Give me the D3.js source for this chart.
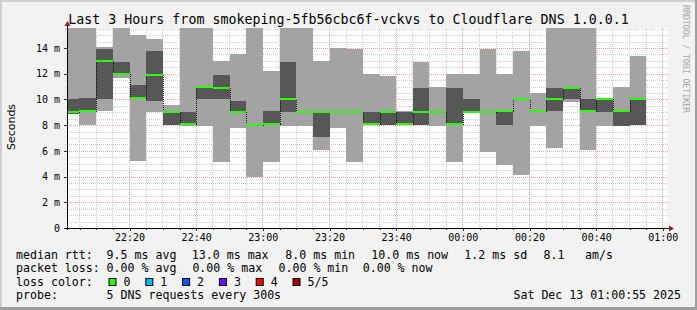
<!DOCTYPE html>
<html>
<head>
<meta charset="utf-8">
<script src="https://cdn.jsdelivr.net/npm/d3@7"></script>
<style>
  body { margin: 0; background: #f2f2f2; }
  svg { display: block; }
  text { font-family: "DejaVu Sans Mono", monospace; fill: #000; }
</style>
</head>
<body>
<div id="graphique"></div>
<script>
// Dimensions de l'image
const largeur = 697;
const hauteur = 310;
const zone = {gauche: 67, droite: 667, haut: 28, bas: 228};

// Fenêtre de 3 heures affichée
const debut = new Date(2025, 11, 12, 22, 1, 15);
const fin = new Date(2025, 11, 13, 1, 1, 15);
const yMax = 15.556; // haut du graphique en ms

// Fin de chaque intervalle de 5 minutes
const heuresFin = ["22:05", "22:10", "22:15", "22:20", "22:25", "22:30", "22:35", "22:40", "22:45",
    "22:50", "22:55", "23:00", "23:05", "23:10", "23:15", "23:20", "23:25", "23:30", "23:35", "23:40",
    "23:45", "23:50", "23:55", "00:00", "00:05", "00:10", "00:15", "00:20", "00:25", "00:30", "00:35",
    "00:40", "00:45", "00:50", "00:55"];

// Les 5 requêtes DNS triées (ms) : la plus rapide, 2e, médiane, 4e, la plus lente
const ping1 = [8.9, 8.0, 9.1, 11.7, 5.2, 9.0, 8.0, 7.9, 7.9, 5.1, 7.8, 4.0, 5.1, 7.9, 7.9, 6.1, 7.8, 5.1,
    8.0, 8.0, 8.0, 8.0, 7.9, 5.1, 9.0, 5.9, 4.9, 4.1, 7.9, 6.2, 9.8, 6.1, 7.9, 7.9, 8.0];
const ping2 = [8.9, 9.1, 10.0, 12.0, 10.1, 9.9, 8.0, 8.0, 10.0, 10.0, 9.0, 8.0, 8.1, 9.0, 9.0, 7.1, 9.0, 9.0,
    8.1, 8.0, 8.1, 8.0, 9.0, 8.1, 9.0, 9.0, 8.0, 10.0, 9.1, 9.1, 10.0, 9.1, 9.0, 7.9, 8.0];
const medianes = [9.0, 9.1, 13.0, 12.0, 10.1, 11.9, 9.0, 8.1, 11.0, 10.9, 9.0, 8.0, 8.1, 10.0, 9.0, 9.0, 9.0, 9.0,
    8.1, 9.0, 8.1, 9.0, 9.0, 8.1, 9.0, 9.0, 9.1, 10.0, 9.1, 10.0, 10.9, 9.1, 10.0, 9.1, 10.0];
const ping4 = [10.0, 10.1, 13.9, 12.9, 11.1, 13.8, 9.0, 9.0, 11.0, 11.9, 9.9, 8.0, 9.1, 12.9, 9.0, 9.0, 9.0, 9.0,
    9.0, 9.0, 9.0, 10.9, 9.0, 10.9, 10.0, 9.0, 9.1, 10.0, 9.1, 10.9, 10.9, 10.0, 10.0, 9.1, 10.1];
const ping5 = [18, 18, 14.1, 18, 15.0, 14.7, 9.6, 18, 18, 13.0, 13.5, 18, 12.2, 18, 18, 13.0, 14.0, 13.9,
    12.0, 11.8, 9.1, 12.9, 11.0, 12.0, 12.0, 13.9, 12.0, 13.8, 10.5, 18, 18, 18, 10.0, 11.0, 13.4];

// Graduations
const yTicks = [0, 2, 4, 6, 8, 10, 12, 14];
const xLabels = ["22:20", "22:40", "23:00", "23:20", "23:40", "00:00", "00:20", "00:40", "01:00"];

// Légende
const titre = "Last 3 Hours from smokeping-5fb56cbc6f-vckvs to Cloudflare DNS 1.0.0.1";
const statsRtt = ["9.5 ms avg", "13.0 ms max", "8.0 ms min", "10.0 ms now", "1.2 ms sd", "8.1", "am/s"];
const statsPerte = ["0.00 % avg", "0.00 % max", "0.00 % min", "0.00 % now"];
const pertesLabels = ["0", "1", "2", "3", "4", "5/5"];
const pertesCouleurs = ["#26ff00", "#00b8ff", "#0059ff", "#7e00ff", "#ff0000", "#a10000"];
const sonde = "5 DNS requests every 300s";
const dateGraphique = "Sat Dec 13 01:00:55 2025";

// Positions horizontales des morceaux de légende
const posRtt = [106.6, 191.8, 285.3, 371.3, 464.3, 543.6, 585.1];
const posPerte = [106.6, 192.4, 278.5, 362.7];

function versDate(hm) {
    const [h, m] = hm.split(":").map(Number);
    return h >= 12 ? new Date(2025, 11, 12, h, m) : new Date(2025, 11, 13, h, m);
}

const donnees = heuresFin.map((hm, i) => ({
    fin: versDate(hm),
    p1: ping1[i], p2: ping2[i], med: medianes[i], p4: ping4[i], p5: ping5[i]
}));

// Échelles
const x = d3.scaleTime().domain([debut, fin]).range([zone.gauche, zone.droite]);
const y = d3.scaleLinear().domain([0, yMax]).range([zone.bas, zone.haut]);

const svg = d3.select('#graphique')
    .append('svg')
    .attr('width', largeur)
    .attr('height', hauteur);

// Fond et bordures
svg.append('rect').attr('width', largeur).attr('height', hauteur).attr('fill', '#f2f2f2');
svg.append('rect').attr('x', 0).attr('y', 0).attr('width', largeur).attr('height', 2).attr('fill', '#cfcfcf');
svg.append('rect').attr('x', 0).attr('y', 0).attr('width', 2).attr('height', hauteur).attr('fill', '#cfcfcf');
svg.append('rect').attr('x', 0).attr('y', hauteur - 3).attr('width', largeur).attr('height', 3).attr('fill', '#9e9e9e');
svg.append('rect').attr('x', largeur - 2).attr('y', 0).attr('width', 2).attr('height', hauteur).attr('fill', '#9e9e9e');

// Zone du graphique
svg.append('rect')
    .attr('x', zone.gauche).attr('y', zone.haut)
    .attr('width', zone.droite - zone.gauche + 1).attr('height', zone.bas - zone.haut)
    .attr('fill', '#ffffff');

svg.append('clipPath').attr('id', 'clip')
    .append('rect')
    .attr('x', zone.gauche).attr('y', zone.haut)
    .attr('width', zone.droite - zone.gauche + 1).attr('height', zone.bas - zone.haut);

// Grille
const grille = svg.append('g').attr('shape-rendering', 'crispEdges');
const pas5 = d3.timeMinute.every(5).range(debut, fin);
grille.selectAll('line.v')
    .data(pas5)
    .enter()
    .append('line')
    .attr('x1', d => Math.floor(x(d)) + 0.5)
    .attr('x2', d => Math.floor(x(d)) + 0.5)
    .attr('y1', zone.haut)
    .attr('y2', zone.bas + 2)
    .attr('stroke', d => d.getMinutes() % 20 === 0 ? '#f4a3a3' : '#cfcfcf')
    .attr('stroke-dasharray', '1,1');

const pasY = d3.range(0.5, yMax, 0.5);
grille.selectAll('line.h')
    .data(pasY)
    .enter()
    .append('line')
    .attr('x1', zone.gauche - 2)
    .attr('x2', zone.droite + 2)
    .attr('y1', d => Math.round(y(d)) + 0.5)
    .attr('y2', d => Math.round(y(d)) + 0.5)
    .attr('stroke', d => d % 2 === 0 ? '#f4a3a3' : '#cfcfcf')
    .attr('stroke-dasharray', '1,1');

// Fumée et médiane
const courbes = svg.append('g').attr('clip-path', 'url(#clip)').attr('shape-rendering', 'crispEdges');
const x0 = d => Math.round(x(Math.max(debut, d3.timeMinute.offset(d.fin, -5))));
const x1 = d => Math.round(x(d.fin));

courbes.selectAll('rect.clair')
    .data(donnees)
    .enter()
    .append('rect')
    .attr('x', x0)
    .attr('width', d => x1(d) - x0(d))
    .attr('y', d => Math.round(y(d.p5)))
    .attr('height', d => Math.round(y(d.p1)) - Math.round(y(d.p5)))
    .attr('fill', '#a3a3a3');

courbes.selectAll('rect.fonce')
    .data(donnees)
    .enter()
    .append('rect')
    .attr('x', x0)
    .attr('width', d => x1(d) - x0(d))
    .attr('y', d => Math.round(y(d.p4)))
    .attr('height', d => Math.round(y(d.p2)) - Math.round(y(d.p4)))
    .attr('fill', '#575757');

// Ligne pointillée reliant les médianes
const points = donnees.map(d => [x0(d) + 0.5, Math.round(y(d.med)) + 0.5]);
points.push([x1(donnees[donnees.length - 1]) + 0.5, points[points.length - 1][1]]);
courbes.append('path')
    .attr('d', d3.line().curve(d3.curveStepAfter)(points))
    .attr('fill', 'none')
    .attr('stroke', '#000')
    .attr('stroke-opacity', 0.85)
    .attr('stroke-dasharray', '1,1');

courbes.selectAll('rect.mediane')
    .data(donnees)
    .enter()
    .append('rect')
    .attr('x', x0)
    .attr('width', d => x1(d) - x0(d))
    .attr('y', d => Math.round(y(d.med)) - 1)
    .attr('height', 2)
    .attr('fill', pertesCouleurs[0]);

// Axes
const axeY = svg.append('g')
    .attr('transform', `translate(${zone.gauche},0)`)
    .call(d3.axisLeft(y).tickValues(yTicks).tickSize(3).tickPadding(4)
        .tickFormat(d => d === 0 ? "0" : `${d} m`));
axeY.select('.domain').remove();
axeY.selectAll('line').attr('stroke', '#333').attr('shape-rendering', 'crispEdges');
axeY.selectAll('text').style('font-size', '10px').style('font-family', '"DejaVu Sans Mono", monospace');

const axeXMineur = svg.append('g')
    .attr('transform', `translate(0,${zone.bas})`)
    .call(d3.axisBottom(x).tickValues(pas5).tickSize(2).tickFormat(''));
axeXMineur.select('.domain').remove();
axeXMineur.selectAll('line').attr('stroke', '#333').attr('shape-rendering', 'crispEdges');

const axeX = svg.append('g')
    .attr('transform', `translate(0,${zone.bas})`)
    .call(d3.axisBottom(x).tickValues(xLabels.map(versDate)).tickSize(3).tickPadding(3)
        .tickFormat(d3.timeFormat("%H:%M")));
axeX.select('.domain').remove();
axeX.selectAll('line').attr('stroke', '#333').attr('shape-rendering', 'crispEdges');
axeX.selectAll('text').style('font-size', '10px').style('font-family', '"DejaVu Sans Mono", monospace');

// Lignes d'axes avec flèches
svg.append('line')
    .attr('x1', zone.gauche - 2).attr('x2', zone.droite + 4)
    .attr('y1', zone.bas + 0.5).attr('y2', zone.bas + 0.5)
    .attr('stroke', '#000').attr('shape-rendering', 'crispEdges');
svg.append('line')
    .attr('x1', zone.gauche + 0.5).attr('x2', zone.gauche + 0.5)
    .attr('y1', zone.bas + 2).attr('y2', zone.haut - 4)
    .attr('stroke', '#000').attr('shape-rendering', 'crispEdges');
svg.append('path')
    .attr('d', `M${zone.droite + 2},${zone.bas - 2.5}L${zone.droite + 7},${zone.bas + 0.5}L${zone.droite + 2},${zone.bas + 3.5}Z`)
    .attr('fill', '#9b1c1c');
svg.append('path')
    .attr('d', `M${zone.gauche - 2.5},${zone.haut - 2}L${zone.gauche + 0.5},${zone.haut - 7}L${zone.gauche + 3.5},${zone.haut - 2}Z`)
    .attr('fill', '#9b1c1c');

// Titres
svg.append('text')
    .attr('x', largeur / 2).attr('y', 24)
    .attr('text-anchor', 'middle')
    .style('font-size', '13.3px')
    .text(titre);

svg.append('text')
    .attr('transform', 'translate(15,127) rotate(-90)')
    .attr('text-anchor', 'middle')
    .style('font-family', '"DejaVu Sans", sans-serif')
    .style('font-size', '11px')
    .text("Seconds");

svg.append('text')
    .attr('transform', 'translate(683,5) rotate(90)')
    .attr('textLength', 108)
    .style('font-family', '"DejaVu Sans Mono", monospace')
    .style('font-size', '8.6px')
    .style('fill', '#a8a8a8')
    .text("RRDTOOL / TOBI OETIKER");

// Légende
const legende = svg.append('g').style('font-size', '11.6px');
const lignes = [258.5, 272, 285.5, 299];

legende.append('text').attr('x', 16).attr('y', lignes[0]).text("median rtt:");
legende.selectAll('text.rtt')
    .data(statsRtt)
    .enter()
    .append('text')
    .attr('x', (d, i) => posRtt[i])
    .attr('y', lignes[0])
    .text(d => d);

legende.append('text').attr('x', 16).attr('y', lignes[1]).text("packet loss:");
legende.selectAll('text.perte')
    .data(statsPerte)
    .enter()
    .append('text')
    .attr('x', (d, i) => posPerte[i])
    .attr('y', lignes[1])
    .text(d => d);

legende.append('text').attr('x', 16).attr('y', lignes[2]).text("loss color:");
const cases = legende.selectAll('g.perte')
    .data(pertesLabels)
    .enter()
    .append('g')
    .attr('transform', (d, i) => `translate(${108.5 + i * 36.8},0)`);
cases.append('rect')
    .attr('x', 0.5).attr('y', 278.5)
    .attr('width', 7).attr('height', 7)
    .attr('fill', (d, i) => pertesCouleurs[i])
    .attr('stroke', '#000');
cases.append('text')
    .attr('x', 15)
    .attr('y', lignes[2])
    .text(d => d);

legende.append('text').attr('x', 16).attr('y', lignes[3]).text("probe:");
legende.append('text').attr('x', 106.6).attr('y', lignes[3]).text(sonde);
legende.append('text').attr('x', 681).attr('y', lignes[3]).attr('text-anchor', 'end').text(dateGraphique);
</script>
</body>
</html>
